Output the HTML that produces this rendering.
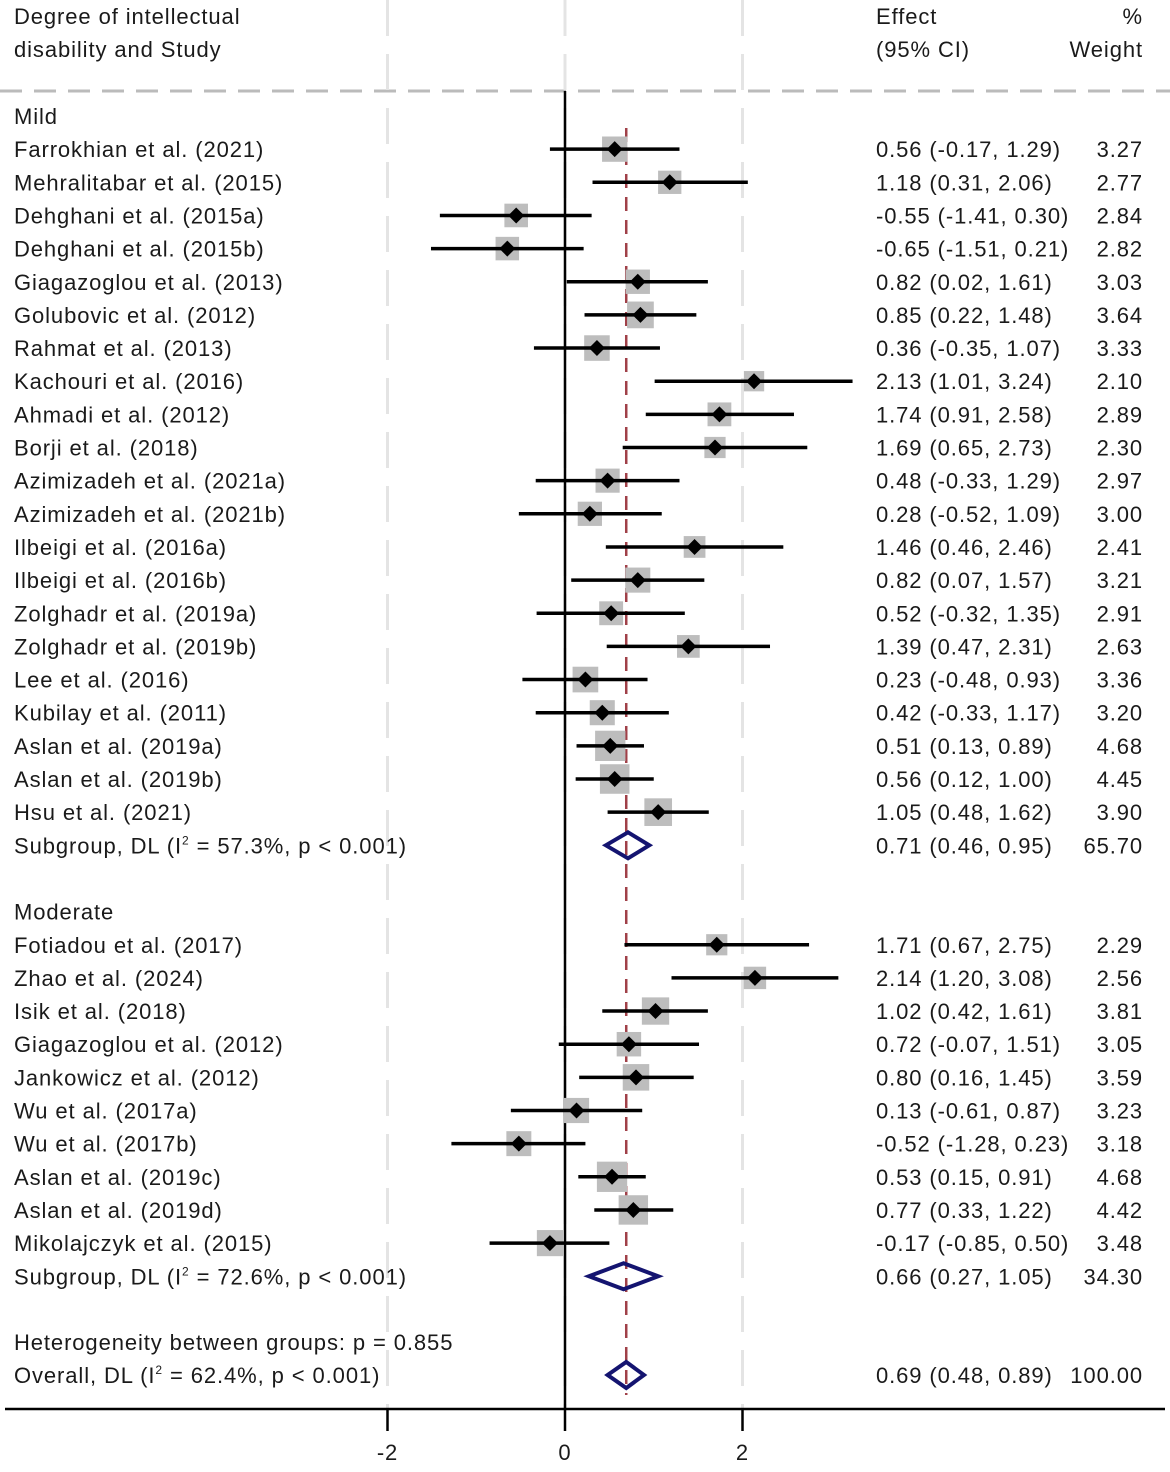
<!DOCTYPE html>
<html><head><meta charset="utf-8"><style>
html,body{margin:0;padding:0;background:#fff;}
svg text{font-family:"Liberation Sans",Arial,sans-serif;font-size:22px;letter-spacing:0.9px;fill:#1a1a1a;}
</style></head><body>
<svg id="plot" width="1170" height="1467" viewBox="0 0 1170 1467" xmlns="http://www.w3.org/2000/svg">
<g id="static">
<text x="14" y="24">Degree of intellectual</text>
<text x="14" y="57">disability and Study</text>
<text x="876" y="24">Effect</text>
<text x="876" y="57">(95% CI)</text>
<text x="1143" y="24" text-anchor="end">%</text>
<text x="1143" y="57" text-anchor="end">Weight</text>
<line x1="0" y1="91" x2="1170" y2="91" stroke="#bbb" stroke-width="3" stroke-dasharray="22,12"/>
</g>
<g id="marks"></g>
</svg>
<script>
const studies=["Farrokhian et al. (2021)","Mehralitabar et al. (2015)","Dehghani et al. (2015a)","Dehghani et al. (2015b)","Giagazoglou et al. (2013)","Golubovic et al. (2012)","Rahmat et al. (2013)","Kachouri et al. (2016)","Ahmadi et al. (2012)","Borji et al. (2018)","Azimizadeh et al. (2021a)","Azimizadeh et al. (2021b)","Ilbeigi et al. (2016a)","Ilbeigi et al. (2016b)","Zolghadr et al. (2019a)","Zolghadr et al. (2019b)","Lee et al. (2016)","Kubilay et al. (2011)","Aslan et al. (2019a)","Aslan et al. (2019b)","Hsu et al. (2021)","Fotiadou et al. (2017)","Zhao et al. (2024)","Isik et al. (2018)","Giagazoglou et al. (2012)","Jankowicz et al. (2012)","Wu et al. (2017a)","Wu et al. (2017b)","Aslan et al. (2019c)","Aslan et al. (2019d)","Mikolajczyk et al. (2015)"];
const effects=[0.56,1.18,-0.55,-0.65,0.82,0.85,0.36,2.13,1.74,1.69,0.48,0.28,1.46,0.82,0.52,1.39,0.23,0.42,0.51,0.56,1.05,1.71,2.14,1.02,0.72,0.80,0.13,-0.52,0.53,0.77,-0.17];
const lowers=[-0.17,0.31,-1.41,-1.51,0.02,0.22,-0.35,1.01,0.91,0.65,-0.33,-0.52,0.46,0.07,-0.32,0.47,-0.48,-0.33,0.13,0.12,0.48,0.67,1.20,0.42,-0.07,0.16,-0.61,-1.28,0.15,0.33,-0.85];
const uppers=[1.29,2.06,0.30,0.21,1.61,1.48,1.07,3.24,2.58,2.73,1.29,1.09,2.46,1.57,1.35,2.31,0.93,1.17,0.89,1.00,1.62,2.75,3.08,1.61,1.51,1.45,0.87,0.23,0.91,1.22,0.50];
const weights=[3.27,2.77,2.84,2.82,3.03,3.64,3.33,2.10,2.89,2.30,2.97,3.00,2.41,3.21,2.91,2.63,3.36,3.20,4.68,4.45,3.90,2.29,2.56,3.81,3.05,3.59,3.23,3.18,4.68,4.42,3.48];
const groupNames=["Mild","Moderate"];
const groupCounts=[21,10];
const subLabels=["Subgroup, DL (I","Subgroup, DL (I"];
const subI2=["57.3%, p &lt; 0.001)","72.6%, p &lt; 0.001)"];
const subEffects=[0.71,0.66];
const subLowers=[0.46,0.27];
const subUppers=[0.95,1.05];
const subWeights=["65.70","34.30"];
const overallEffect=[0.69],overallLower=[0.48],overallUpper=[0.89];
const xTicks=[-2,0,2];

const X=v=>565+v*88.75;
const NS="http://www.w3.org/2000/svg";
const g=document.getElementById('marks');
function el(tag,attrs,parent){const e=document.createElementNS(NS,tag);for(const k in attrs)e.setAttribute(k,attrs[k]);(parent||g).appendChild(e);return e;}
function txt(x,y,s,anchor){const t=el('text',{x:x,y:y});if(anchor)t.setAttribute('text-anchor',anchor);t.textContent=s;return t;}
const f2=v=>v.toFixed(2);
const row=33.15, top0=116;
const axisY=1409;

xTicks.forEach(v=>{const l=el('line',{x1:X(v),y1:0,x2:X(v),y2:axisY,stroke:'#e4e4e4','stroke-width':3,'stroke-dasharray':'36,18'});

});
const zl=el('line',{x1:X(0),y1:91,x2:X(0),y2:axisY,stroke:'#000','stroke-width':2.5});


const ol=el('line',{x1:X(overallEffect[0]),y1:128,x2:X(overallEffect[0]),y2:1395,stroke:'#a04048','stroke-width':2.5,'stroke-dasharray':'14,9'});



function diamond(y,e,lo,hi,name){const h=13;const p=el('polygon',{points:`${X(lo)},${y} ${X(e)},${y-h} ${X(hi)},${y} ${X(e)},${y+h}`,fill:'none',stroke:'#141470','stroke-width':4});

}

let idx=0, y=top0;
for(let gi=0;gi<groupNames.length;gi++){
  const gl=txt(14,y+8,groupNames[gi]);
  
  
  y+=row;
  for(let k=0;k<groupCounts[gi];k++,idx++){
    const yy=y;
    const sz=14*Math.sqrt(weights[idx]);
    const sq=el('rect',{x:X(effects[idx])-sz/2,y:yy-sz/2,width:sz,height:sz,fill:'#bdbdbd'});
    
    
    const ci=el('line',{x1:X(lowers[idx]),y1:yy,x2:X(uppers[idx]),y2:yy,stroke:'#000','stroke-width':3.5});
    
    
    const d=8;
    const pt=el('polygon',{points:`${X(effects[idx])-d},${yy} ${X(effects[idx])},${yy-d} ${X(effects[idx])+d},${yy} ${X(effects[idx])},${yy+d}`,fill:'#000'});
    
    
    const s=txt(14,yy+8,studies[idx]);
    
    
    const e=txt(876,yy+8,`${f2(effects[idx])} (${f2(lowers[idx])}, ${f2(uppers[idx])})`);
    
    
    const w=txt(1143,yy+8,f2(weights[idx]),'end');
    
    
    y+=row;
  }
  const sl=txt(14,y+8,'');
  sl.innerHTML=subLabels[gi]+'<tspan dy="-9" font-size="12">2</tspan><tspan dy="9"> = '+subI2[gi]+'</tspan>';
  
  
  diamond(y,subEffects[gi],subLowers[gi],subUppers[gi],'subgroup-diamond');
  const se=txt(876,y+8,`${f2(subEffects[gi])} (${f2(subLowers[gi])}, ${f2(subUppers[gi])})`);
  
  
  const sw=txt(1143,y+8,subWeights[gi],'end');
  
  
  y+=row*2;
}
const het=txt(14,1342+8,'Heterogeneity between groups: p = 0.855');


const ov=txt(14,1375+8,'');
ov.innerHTML='Overall, DL (I<tspan dy="-9" font-size="12">2</tspan><tspan dy="9"> = 62.4%, p &lt; 0.001)</tspan>';


diamond(1375,overallEffect[0],overallLower[0],overallUpper[0],'overall-diamond');
const oe=txt(876,1383,`${f2(overallEffect[0])} (${f2(overallLower[0])}, ${f2(overallUpper[0])})`);


const ow=txt(1143,1383,'100.00','end');



const ax=el('line',{x1:5,y1:axisY,x2:1165,y2:axisY,stroke:'#000','stroke-width':2.5});


xTicks.forEach(v=>{
  const t=el('line',{x1:X(v),y1:axisY,x2:X(v),y2:axisY+22,stroke:'#000','stroke-width':2.5});
  
  
  const l=txt(X(v),1460,String(v),'middle');
  
  
});
</script>
</body></html>
